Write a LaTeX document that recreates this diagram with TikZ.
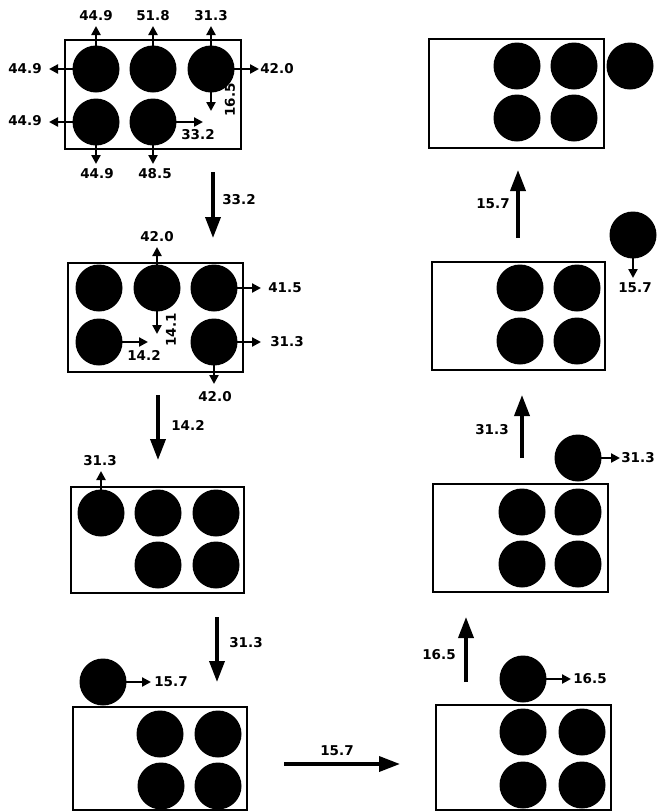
\documentclass[tikz,border=0pt]{standalone}
\usepackage{fontspec}
\setmainfont{DejaVu Sans}
\usetikzlibrary{arrows.meta}
\tikzset{
  ball/.style={circle, fill=black, minimum size=47pt, inner sep=0pt},
  tray/.style={draw, line width=2.6pt, rectangle, inner sep=0pt},
  sarr/.style={line width=2.4pt, -{Triangle[length=9pt,width=9pt]}},
  barr/.style={line width=3.6pt, -{Triangle[length=21pt,width=15pt]}},
  lab/.style={font=\bfseries\fontsize{13.5}{14}\selectfont, inner sep=0pt},
}
\begin{document}
\begin{tikzpicture}[x=1pt,y=-1pt]
\useasboundingbox (0,0) rectangle (657,812);
% ---------- Panel 1 ----------
\node[tray, minimum width=176pt, minimum height=109pt] (p1) at (153,94.5) {};
\node[ball] (p1a) at (96,69) {};
\node[ball] (p1b) at (153,69) {};
\node[ball] (p1c) at (211,69) {};
\node[ball] (p1d) at (96,122) {};
\node[ball] (p1e) at (153,122) {};
\coordinate (t1) at (96,26);  \coordinate (t2) at (153,26); \coordinate (t3) at (211,26);
\coordinate (t4) at (49,69);  \coordinate (t5) at (259,69); \coordinate (t6) at (211,111);
\coordinate (t7) at (49,122); \coordinate (t8) at (203,122);
\coordinate (t9) at (96,164); \coordinate (t10) at (153,164);
\draw[sarr] (p1a.center) -- (t1);
\draw[sarr] (p1b.center) -- (t2);
\draw[sarr] (p1c.center) -- (t3);
\draw[sarr] (p1a.center) -- (t4);
\draw[sarr] (p1c.center) -- (t5);
\draw[sarr] (p1c.center) -- (t6);
\draw[sarr] (p1d.center) -- (t7);
\draw[sarr] (p1e.center) -- (t8);
\draw[sarr] (p1d.center) -- (t9);
\draw[sarr] (p1e.center) -- (t10);
\node[lab] (l1) at (96,16) {44.9};
\node[lab] (l2) at (153,16) {51.8};
\node[lab] (l3) at (211,16) {31.3};
\node[lab] (l4) at (25,69) {44.9};
\node[lab] (l5) at (277,69) {42.0};
\node[lab, rotate=90] (l6) at (230,100) {16.5};
\node[lab] (l7) at (25,121) {44.9};
\node[lab] (l8) at (198,135) {33.2};
\node[lab] (l9) at (97,174) {44.9};
\node[lab] (l10) at (155,174) {48.5};
% big arrow 1
\coordinate (b1s) at (213,172); \coordinate (b1e) at (213,238);
\draw[barr] (b1s) -- (b1e);
\node[lab] (lb1) at (239,200) {33.2};
% ---------- Panel 2 ----------
\node[tray, minimum width=175pt, minimum height=109pt] (p2) at (155.5,317.5) {};
\node[ball] (p2a) at (99,288) {};
\node[ball] (p2b) at (157,288) {};
\node[ball] (p2c) at (214,288) {};
\node[ball] (p2d) at (99,342) {};
\node[ball] (p2e) at (214,342) {};
\coordinate (u1) at (157,247); \coordinate (u2) at (157,334); \coordinate (u3) at (261,288);
\coordinate (u4) at (148,342); \coordinate (u5) at (261,342); \coordinate (u6) at (214,384);
\draw[sarr] (p2b.center) -- (u1);
\draw[sarr] (p2b.center) -- (u2);
\draw[sarr] (p2c.center) -- (u3);
\draw[sarr] (p2d.center) -- (u4);
\draw[sarr] (p2e.center) -- (u5);
\draw[sarr] (p2e.center) -- (u6);
\node[lab] (m1) at (157,237) {42.0};
\node[lab, rotate=90] (m2) at (171,330) {14.1};
\node[lab] (m3) at (285,288) {41.5};
\node[lab] (m4) at (144,355) {14.2};
\node[lab] (m5) at (287,342) {31.3};
\node[lab] (m6) at (215,397) {42.0};
% big arrow 2
\coordinate (b2s) at (158,395); \coordinate (b2e) at (158,460);
\draw[barr] (b2s) -- (b2e);
\node[lab] (lb2) at (188,425) {14.2};
% ---------- Panel 3 ----------
\node[tray, minimum width=173pt, minimum height=106pt] (p3) at (157.5,540) {};
\node[ball] (p3a) at (101,513) {};
\node[ball] (p3b) at (158,513) {};
\node[ball] (p3c) at (216,513) {};
\node[ball] (p3d) at (158,565) {};
\node[ball] (p3e) at (216,565) {};
\coordinate (v1) at (101,471);
\draw[sarr] (p3a.center) -- (v1);
\node[lab] (n1) at (100,461) {31.3};
% big arrow 3
\coordinate (b3s) at (217,617); \coordinate (b3e) at (217,682);
\draw[barr] (b3s) -- (b3e);
\node[lab] (lb3) at (246,643) {31.3};
% ---------- Panel 4 ----------
\node[tray, minimum width=174pt, minimum height=103pt] (p4) at (160,758.5) {};
\node[ball] (p4a) at (160,734) {};
\node[ball] (p4b) at (218,734) {};
\node[ball] (p4c) at (161,786) {};
\node[ball] (p4d) at (218,786) {};
\node[ball] (p4o) at (103,682) {};
\coordinate (w1) at (151,682);
\draw[sarr] (p4o.center) -- (w1);
\node[lab] (o1) at (171,682) {15.7};
% horizontal big arrow
\coordinate (b4s) at (284,764); \coordinate (b4e) at (400,764);
\draw[barr] (b4s) -- (b4e);
\node[lab] (lb4) at (337,751) {15.7};
% ---------- Right panel 1 (bottom) ----------
\node[tray, minimum width=175pt, minimum height=105pt] (r1) at (523.5,757.5) {};
\node[ball] (r1a) at (523,732) {};
\node[ball] (r1b) at (582,732) {};
\node[ball] (r1c) at (523,785) {};
\node[ball] (r1d) at (582,785) {};
\node[ball] (r1o) at (523,679) {};
\coordinate (x1) at (571,679);
\draw[sarr] (r1o.center) -- (x1);
\node[lab] (q1) at (590,679) {16.5};
\coordinate (b5s) at (466,682); \coordinate (b5e) at (466,617);
\draw[barr] (b5s) -- (b5e);
\node[lab] (lb5) at (439,655) {16.5};
% ---------- Right panel 2 ----------
\node[tray, minimum width=175pt, minimum height=108pt] (r2) at (520.5,538) {};
\node[ball] (r2a) at (522,512) {};
\node[ball] (r2b) at (578,512) {};
\node[ball] (r2c) at (522,564) {};
\node[ball] (r2d) at (578,564) {};
\node[ball] (r2o) at (578,458) {};
\coordinate (x2) at (620,458);
\draw[sarr] (r2o.center) -- (x2);
\node[lab] (q2) at (638,458) {31.3};
\coordinate (b6s) at (522,458); \coordinate (b6e) at (522,395);
\draw[barr] (b6s) -- (b6e);
\node[lab] (lb6) at (492,430) {31.3};
% ---------- Right panel 3 ----------
\node[tray, minimum width=173pt, minimum height=108pt] (r3) at (518.5,316) {};
\node[ball] (r3a) at (520,288) {};
\node[ball] (r3b) at (577,288) {};
\node[ball] (r3c) at (520,341) {};
\node[ball] (r3d) at (577,341) {};
\node[ball] (r3o) at (633,235) {};
\coordinate (x3) at (633,278);
\draw[sarr] (r3o.center) -- (x3);
\node[lab] (q3) at (635,288) {15.7};
\coordinate (b7s) at (518,238); \coordinate (b7e) at (518,170);
\draw[barr] (b7s) -- (b7e);
\node[lab] (lb7) at (493,204) {15.7};
% ---------- Right panel 4 (top) ----------
\node[tray, minimum width=175pt, minimum height=109pt] (r4) at (516.5,93.5) {};
\node[ball] (r4a) at (517,66) {};
\node[ball] (r4b) at (574,66) {};
\node[ball] (r4c) at (517,118) {};
\node[ball] (r4d) at (574,118) {};
\node[ball] (r4o) at (630,66) {};
\end{tikzpicture}
\end{document}
